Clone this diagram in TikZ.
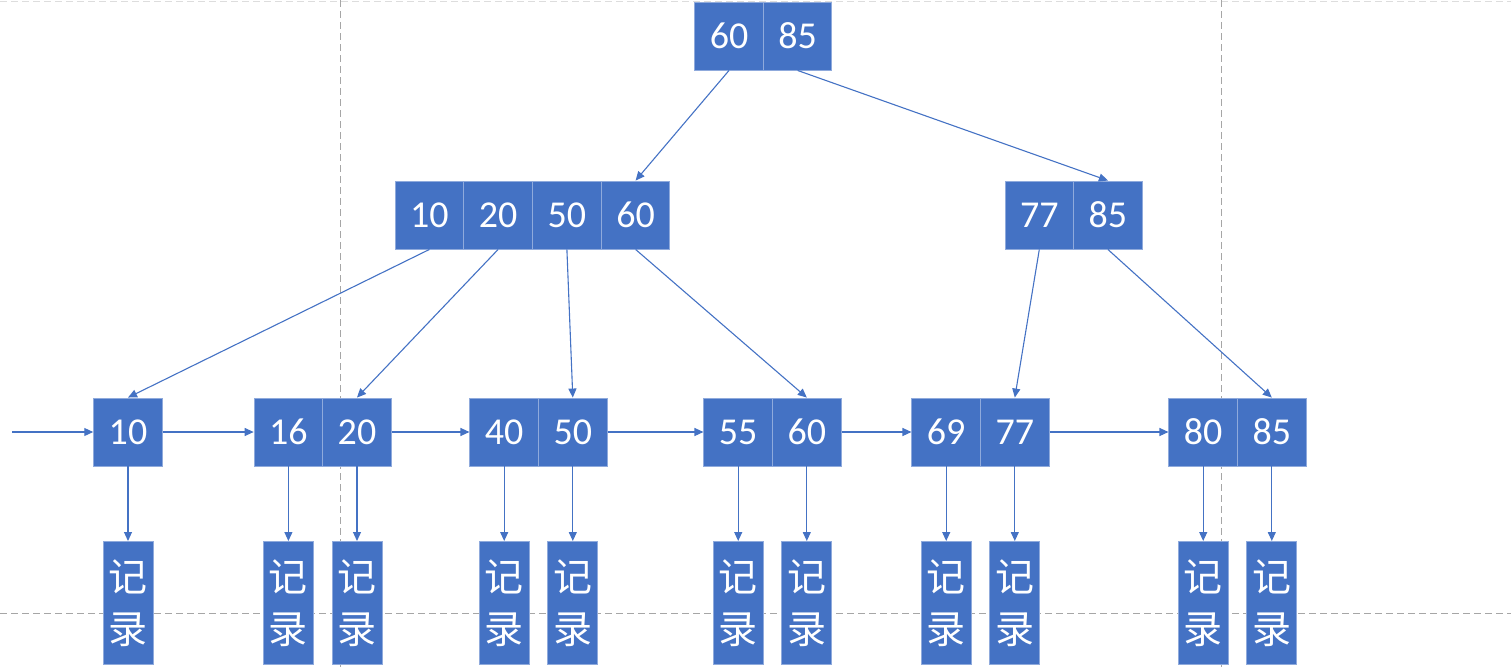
\documentclass[tikz,border=0pt]{standalone}
\usepackage{fontspec}
\setmainfont{Carlito}
\newfontfamily\cjk{Noto Sans CJK SC}
\usetikzlibrary{arrows.meta}
\definecolor{cellfill}{HTML}{4472C4}
\definecolor{cellline}{HTML}{8FAADC}
\definecolor{guide}{HTML}{A6A6A6}
\definecolor{guidelight}{HTML}{DDDDDD}
\tikzset{
  cell/.style={draw=cellline, line width=0.9pt, fill=cellfill, text=white,
    minimum width=68.6pt, minimum height=68pt, inner sep=0pt,
    font=\fontsize{38}{38}\selectfont},
  rec/.style={draw=cellline, line width=0.9pt, fill=cellfill, text=white,
    minimum width=50pt, minimum height=123pt, inner sep=0pt,
    align=center, font=\cjk\fontsize{39}{52}\selectfont},
  link/.style={draw=cellfill, line width=1.1pt,
    -{Triangle[length=9pt,width=8pt]}},
  guideline/.style={draw=guide, line width=1pt, dash pattern=on 7pt off 4pt},
}
\begin{document}
\begin{tikzpicture}[x=1pt,y=-1pt]
\useasboundingbox (0,0) rectangle (1511,667);

% dashed guides behind the tree
\draw[guideline, draw=guidelight] (0,1) -- (1511,1);
\draw[guideline] (340.5,0) -- (340.5,667);
\draw[guideline] (1221,0) -- (1221,667);
\draw[guideline] (0,613) -- (1511,613);

% root
\node[cell] (r60) at (729,36) {60};
\node[cell] (r85) at (797.6,36) {85};

% internal level
\node[cell] (m10) at (429.4,215) {10};
\node[cell] (m20) at (498.1,215) {20};
\node[cell] (m50) at (566.9,215) {50};
\node[cell] (m60) at (635.6,215) {60};
\node[cell] (m77) at (1039.3,215) {77};
\node[cell] (m85) at (1107.9,215) {85};

% leaf level
\node[cell] (l10) at (128,432) {10};
\node[cell] (l16) at (288.4,432) {16};
\node[cell] (l20) at (357,432) {20};
\node[cell] (l40) at (504.2,432) {40};
\node[cell] (l50) at (572.8,432) {50};
\node[cell] (l55) at (738.2,432) {55};
\node[cell] (l60) at (806.8,432) {60};
\node[cell] (l69) at (946.2,432) {69};
\node[cell] (l77) at (1014.8,432) {77};
\node[cell] (l80) at (1203.2,432) {80};
\node[cell] (l85) at (1271.8,432) {85};

% records
\foreach \k in {10,16,20,40,50,55,60,69,77,80,85}{
  \path (l\k.south) ++(0,136.5) node[rec] (d\k) {记\\录};
}

% tree edges
\draw[link] (r60.south) -- (m60.north);
\draw[link] (r85.south) -- (m85.north);
\draw[link] (m10.south) -- (l10.north);
\draw[link] (m20.south) -- (l20.north);
\draw[link] (m50.south) -- (l50.north);
\draw[link] (m60.south) -- (l60.north);
\draw[link] (m77.south) -- (l77.north);
\draw[link] (m85.south) -- (l85.north);

% leaf chain
\coordinate (head) at (12,432);
\draw[link] (head) -- (l10.west);
\draw[link] (l10.east) -- (l16.west);
\draw[link] (l20.east) -- (l40.west);
\draw[link] (l50.east) -- (l55.west);
\draw[link] (l60.east) -- (l69.west);
\draw[link] (l77.east) -- (l80.west);

% leaf to record
\foreach \k in {10,16,20,40,50,55,60,69,77,80,85}{
  \draw[link] (l\k.south) -- (d\k.north);
}
\end{tikzpicture}
\end{document}
